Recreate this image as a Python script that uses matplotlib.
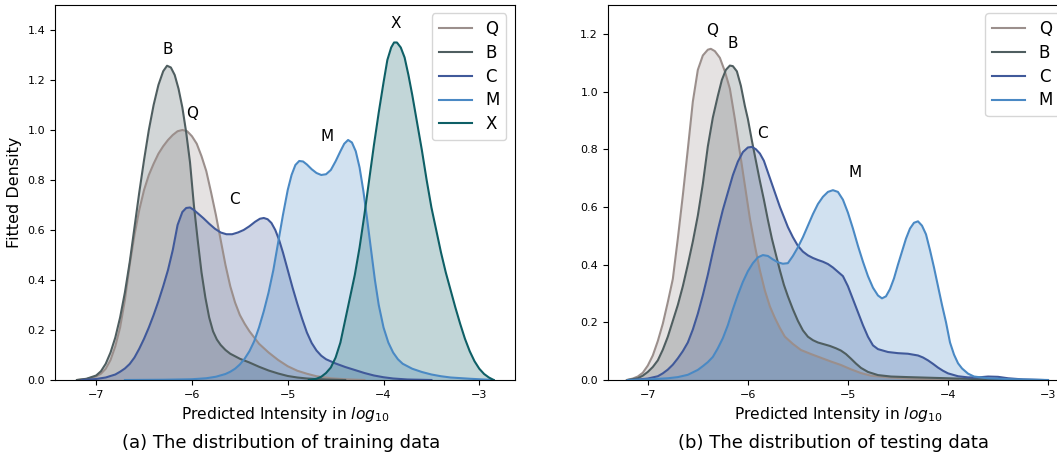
import matplotlib
matplotlib.use("Agg")
import matplotlib.pyplot as plt

# ---- curves (x = log10 intensity, y = fitted density) ----
names_train = ["Q", "B", "C", "M", "X"]
names_test = ["Q", "B", "C", "M"]

train_q_x = [-7.20, -7.10, -7.00, -6.95, -6.90, -6.85, -6.80, -6.75, -6.70, -6.65, -6.60, -6.55, -6.50,
             -6.45, -6.40, -6.35, -6.30, -6.25, -6.20, -6.15, -6.10, -6.05, -6.00, -5.95, -5.90, -5.85,
             -5.80, -5.75, -5.70, -5.65, -5.60, -5.55, -5.50, -5.45, -5.40, -5.30, -5.20, -5.10, -5.00,
             -4.90, -4.80, -4.70, -4.55, -4.40, -4.20]
train_q_y = [0.0, 0.004, 0.014, 0.025, 0.045, 0.080, 0.135, 0.21, 0.32, 0.46, 0.58, 0.68, 0.76,
             0.82, 0.865, 0.905, 0.935, 0.96, 0.98, 0.995, 1.0, 0.995, 0.975, 0.945, 0.895, 0.835,
             0.75, 0.66, 0.56, 0.46, 0.375, 0.31, 0.26, 0.225, 0.195, 0.145, 0.11, 0.08, 0.055,
             0.037, 0.025, 0.015, 0.007, 0.003, 0.0]

train_b_x = [-7.20, -7.10, -7.00, -6.95, -6.90, -6.85, -6.80, -6.75, -6.70, -6.65, -6.60, -6.55, -6.50,
             -6.45, -6.40, -6.35, -6.30, -6.26, -6.22, -6.18, -6.14, -6.10, -6.06, -6.02, -5.98, -5.94,
             -5.90, -5.86, -5.82, -5.78, -5.74, -5.70, -5.65, -5.60, -5.50, -5.40, -5.30, -5.20, -5.10,
             -5.00, -4.90, -4.80, -4.60, -4.40]
train_b_y = [0.0, 0.005, 0.018, 0.035, 0.065, 0.11, 0.17, 0.25, 0.35, 0.47, 0.61, 0.75, 0.88,
             1.00, 1.10, 1.18, 1.235, 1.257, 1.25, 1.22, 1.165, 1.09, 0.99, 0.87, 0.70, 0.56,
             0.43, 0.33, 0.25, 0.195, 0.162, 0.14, 0.12, 0.105, 0.085, 0.07, 0.053, 0.038, 0.026,
             0.016, 0.01, 0.006, 0.002, 0.0]

train_c_x = [-7.15, -7.00, -6.90, -6.80, -6.75, -6.70, -6.65, -6.60, -6.55, -6.50, -6.45, -6.40, -6.35,
             -6.30, -6.25, -6.20, -6.15, -6.10, -6.06, -6.02, -5.98, -5.94, -5.88, -5.82, -5.76, -5.70,
             -5.64, -5.58, -5.52, -5.46, -5.40, -5.34, -5.29, -5.25, -5.21, -5.17, -5.13, -5.09, -5.05,
             -5.00, -4.95, -4.90, -4.85, -4.80, -4.75, -4.70, -4.65, -4.60, -4.50, -4.40, -4.30, -4.20,
             -4.10, -4.00, -3.90, -3.75, -3.50]
train_c_y = [0.0, 0.004, 0.01, 0.022, 0.033, 0.046, 0.064, 0.09, 0.125, 0.165, 0.21, 0.26, 0.315,
             0.375, 0.44, 0.52, 0.62, 0.672, 0.688, 0.69, 0.68, 0.667, 0.647, 0.625, 0.605, 0.59,
             0.583, 0.583, 0.59, 0.60, 0.615, 0.633, 0.645, 0.648, 0.643, 0.628, 0.60, 0.56, 0.51,
             0.44, 0.37, 0.305, 0.245, 0.19, 0.148, 0.118, 0.097, 0.083, 0.066, 0.052, 0.04, 0.028,
             0.018, 0.011, 0.006, 0.002, 0.0]

train_m_x = [-6.70, -6.30, -6.00, -5.85, -5.75, -5.65, -5.60, -5.55, -5.50, -5.45, -5.40, -5.35, -5.30,
             -5.25, -5.20, -5.15, -5.10, -5.05, -5.00, -4.96, -4.92, -4.88, -4.84, -4.80, -4.75, -4.70,
             -4.65, -4.60, -4.55, -4.50, -4.45, -4.41, -4.37, -4.33, -4.29, -4.25, -4.21, -4.17, -4.13,
             -4.09, -4.05, -4.00, -3.95, -3.90, -3.85, -3.80, -3.70, -3.60, -3.50, -3.40, -3.30, -3.10,
             -2.90, -2.85]
train_m_y = [0.0, 0.001, 0.003, 0.007, 0.013, 0.024, 0.033, 0.045, 0.062, 0.085, 0.115, 0.155, 0.21,
             0.275, 0.35, 0.44, 0.55, 0.66, 0.76, 0.82, 0.86, 0.876, 0.874, 0.862, 0.843, 0.828,
             0.82, 0.823, 0.84, 0.875, 0.915, 0.945, 0.96, 0.95, 0.915, 0.85, 0.755, 0.64, 0.52,
             0.40, 0.30, 0.21, 0.15, 0.11, 0.083, 0.065, 0.045, 0.032, 0.022, 0.015, 0.01, 0.005,
             0.001, 0.0]

train_x_x = [-4.78, -4.70, -4.65, -4.60, -4.55, -4.50, -4.45, -4.40, -4.35, -4.30, -4.25, -4.20, -4.15,
             -4.10, -4.05, -4.00, -3.96, -3.92, -3.89, -3.86, -3.82, -3.78, -3.74, -3.70, -3.65, -3.60,
             -3.55, -3.50, -3.45, -3.40, -3.35, -3.30, -3.25, -3.20, -3.15, -3.10, -3.05, -3.00, -2.95,
             -2.90, -2.85]
train_x_y = [0.0, 0.005, 0.013, 0.028, 0.05, 0.09, 0.15, 0.24, 0.33, 0.42, 0.53, 0.66, 0.80,
             0.94, 1.07, 1.19, 1.28, 1.33, 1.35, 1.35, 1.33, 1.29, 1.22, 1.14, 1.03, 0.92,
             0.80, 0.69, 0.60, 0.51, 0.43, 0.36, 0.29, 0.225, 0.165, 0.115, 0.075, 0.045, 0.024,
             0.01, 0.0]

test_q_x = [-7.21, -7.15, -7.10, -7.05, -7.00, -6.95, -6.90, -6.85, -6.80, -6.75, -6.70, -6.65, -6.60,
            -6.55, -6.50, -6.45, -6.40, -6.37, -6.33, -6.28, -6.23, -6.18, -6.13, -6.08, -6.03, -5.98,
            -5.93, -5.88, -5.83, -5.78, -5.73, -5.68, -5.63, -5.55, -5.47, -5.37, -5.27, -5.17, -5.07,
            -4.97, -4.87, -4.77, -4.60, -4.40, -4.20, -3.90]
test_q_y = [0.0, 0.005, 0.012, 0.025, 0.05, 0.085, 0.135, 0.195, 0.27, 0.35, 0.49, 0.64, 0.80,
            0.965, 1.075, 1.125, 1.145, 1.148, 1.14, 1.117, 1.07, 1.01, 0.905, 0.79, 0.675, 0.56,
            0.465, 0.38, 0.31, 0.255, 0.215, 0.18, 0.15, 0.125, 0.104, 0.09, 0.077, 0.064, 0.052,
            0.037, 0.024, 0.015, 0.009, 0.005, 0.003, 0.0]

test_b_x = [-7.20, -7.10, -7.05, -7.00, -6.95, -6.90, -6.85, -6.80, -6.75, -6.70, -6.65, -6.60, -6.55,
            -6.50, -6.45, -6.40, -6.35, -6.30, -6.26, -6.22, -6.18, -6.15, -6.11, -6.07, -6.03, -6.00,
            -5.96, -5.92, -5.88, -5.84, -5.80, -5.76, -5.72, -5.68, -5.64, -5.60, -5.55, -5.50, -5.45,
            -5.40, -5.35, -5.30, -5.25, -5.18, -5.12, -5.07, -5.02, -4.97, -4.92, -4.87, -4.80, -4.70,
            -4.57, -4.40, -4.20, -3.90, -3.60, -3.30]
test_b_y = [0.0, 0.006, 0.015, 0.028, 0.045, 0.068, 0.105, 0.15, 0.205, 0.26, 0.325, 0.40, 0.48,
            0.57, 0.68, 0.81, 0.91, 0.985, 1.04, 1.075, 1.09, 1.088, 1.07, 1.02, 0.95, 0.905,
            0.83, 0.76, 0.69, 0.625, 0.555, 0.49, 0.435, 0.38, 0.33, 0.29, 0.245, 0.205, 0.172,
            0.15, 0.138, 0.13, 0.125, 0.118, 0.11, 0.102, 0.09, 0.074, 0.057, 0.042, 0.028, 0.017,
            0.012, 0.01, 0.008, 0.005, 0.002, 0.0]

test_c_x = [-7.15, -7.00, -6.90, -6.85, -6.80, -6.75, -6.70, -6.65, -6.60, -6.55, -6.50, -6.45, -6.40,
            -6.35, -6.30, -6.25, -6.20, -6.15, -6.10, -6.05, -6.00, -5.96, -5.92, -5.88, -5.84, -5.80,
            -5.76, -5.72, -5.68, -5.64, -5.60, -5.55, -5.50, -5.45, -5.40, -5.35, -5.30, -5.25, -5.20,
            -5.15, -5.10, -5.05, -5.00, -4.95, -4.90, -4.85, -4.80, -4.75, -4.70, -4.60, -4.50, -4.40,
            -4.30, -4.25, -4.20, -4.15, -4.10, -4.05, -4.00, -3.90, -3.80, -3.70, -3.60, -3.50, -3.40,
            -3.25, -3.05]
test_c_y = [0.0, 0.005, 0.013, 0.023, 0.036, 0.053, 0.075, 0.10, 0.13, 0.175, 0.23, 0.294, 0.365,
            0.444, 0.52, 0.59, 0.65, 0.71, 0.757, 0.79, 0.806, 0.808, 0.80, 0.785, 0.76, 0.72,
            0.68, 0.64, 0.60, 0.565, 0.53, 0.495, 0.465, 0.445, 0.432, 0.423, 0.416, 0.41, 0.402,
            0.39, 0.375, 0.36, 0.325, 0.28, 0.235, 0.19, 0.15, 0.12, 0.107, 0.097, 0.093, 0.091,
            0.085, 0.078, 0.068, 0.056, 0.043, 0.032, 0.023, 0.013, 0.009, 0.009, 0.012, 0.011, 0.006,
            0.002, 0.0]

test_m_x = [-7.20, -7.00, -6.80, -6.70, -6.60, -6.50, -6.45, -6.40, -6.35, -6.30, -6.25, -6.20, -6.15,
            -6.10, -6.05, -6.00, -5.95, -5.90, -5.85, -5.80, -5.75, -5.70, -5.65, -5.60, -5.55, -5.50,
            -5.45, -5.40, -5.35, -5.30, -5.25, -5.20, -5.15, -5.10, -5.05, -5.00, -4.95, -4.90, -4.85,
            -4.80, -4.75, -4.70, -4.66, -4.62, -4.58, -4.54, -4.50, -4.46, -4.42, -4.38, -4.34, -4.30,
            -4.26, -4.22, -4.18, -4.14, -4.10, -4.06, -4.02, -3.98, -3.94, -3.90, -3.86, -3.80, -3.74,
            -3.60, -3.40, -3.00]
test_m_y = [0.0, 0.002, 0.006, 0.01, 0.018, 0.035, 0.048, 0.062, 0.08, 0.11, 0.145, 0.19, 0.245,
            0.295, 0.34, 0.377, 0.405, 0.425, 0.433, 0.43, 0.418, 0.408, 0.403, 0.405, 0.43, 0.46,
            0.495, 0.535, 0.575, 0.61, 0.635, 0.652, 0.658, 0.652, 0.625, 0.58, 0.525, 0.465, 0.41,
            0.36, 0.32, 0.293, 0.283, 0.29, 0.315, 0.352, 0.40, 0.445, 0.49, 0.525, 0.545, 0.55,
            0.535, 0.505, 0.45, 0.39, 0.325, 0.26, 0.2, 0.13, 0.088, 0.058, 0.04, 0.022, 0.012,
            0.006, 0.003, 0.0]

colors = {"Q": "#9b8f8c", "B": "#4f5e60", "C": "#40599a", "M": "#4a89c4", "X": "#0e5f66"}

train = {"Q": (train_q_x, train_q_y), "B": (train_b_x, train_b_y), "C": (train_c_x, train_c_y),
         "M": (train_m_x, train_m_y), "X": (train_x_x, train_x_y)}
test = {"Q": (test_q_x, test_q_y), "B": (test_b_x, test_b_y), "C": (test_c_x, test_c_y),
        "M": (test_m_x, test_m_y)}

# peak labels: (text, x, y)
train_labels = [("B", -6.25, 1.32), ("Q", -6.0, 1.065), ("C", -5.56, 0.72), ("M", -4.59, 0.975), ("X", -3.87, 1.425)]
test_labels = [("Q", -6.36, 1.21), ("B", -6.15, 1.165), ("C", -5.85, 0.855), ("M", -4.93, 0.72)]

fig = plt.figure(figsize=(10.57, 4.57), dpi=100)
ax1 = fig.add_axes([0.052, 0.1685, 0.435, 0.8206])
ax2 = fig.add_axes([0.575, 0.1685, 0.4355, 0.8206])


def draw(ax, data, names, labels):
    for n in names:
        xs, ys = data[n]
        ax.fill_between(xs, ys, 0, color=colors[n], alpha=0.25, lw=0)
        ax.plot(xs, ys, color=colors[n], lw=1.5, label=n)
    for t, x, y in labels:
        ax.text(x, y, t, fontsize=11, ha="center", va="center")
    ax.set_xticks([-7, -6, -5, -4, -3])
    ax.set_xticklabels(["\u22127", "\u22126", "\u22125", "\u22124", "\u22123"])
    ax.tick_params(labelsize=8)
    ax.set_xlabel("Predicted Intensity in $log_{10}$", fontsize=11.2)
    ax.legend(loc="upper right", fontsize=12, handlelength=2.0, labelspacing=0.35)


draw(ax1, train, names_train, train_labels)
draw(ax2, test, names_test, test_labels)

ax1.set_xlim(-7.43, -2.63)
ax1.set_ylim(0, 1.5)
ax1.set_yticks([0, 0.2, 0.4, 0.6, 0.8, 1.0, 1.2, 1.4])
ax1.set_ylabel("Fitted Density", fontsize=11.5)

ax2.set_xlim(-7.40, -2.80)
ax2.set_ylim(0, 1.3)
ax2.set_yticks([0, 0.2, 0.4, 0.6, 0.8, 1.0, 1.2])

fig.text(281 / 1057, 1 - 443 / 457, "(a) The distribution of training data", fontsize=13, ha="center", va="center")
fig.text(833 / 1057, 1 - 443 / 457, "(b) The distribution of testing data", fontsize=13, ha="center", va="center")

fig.savefig("out.png", dpi=100)
